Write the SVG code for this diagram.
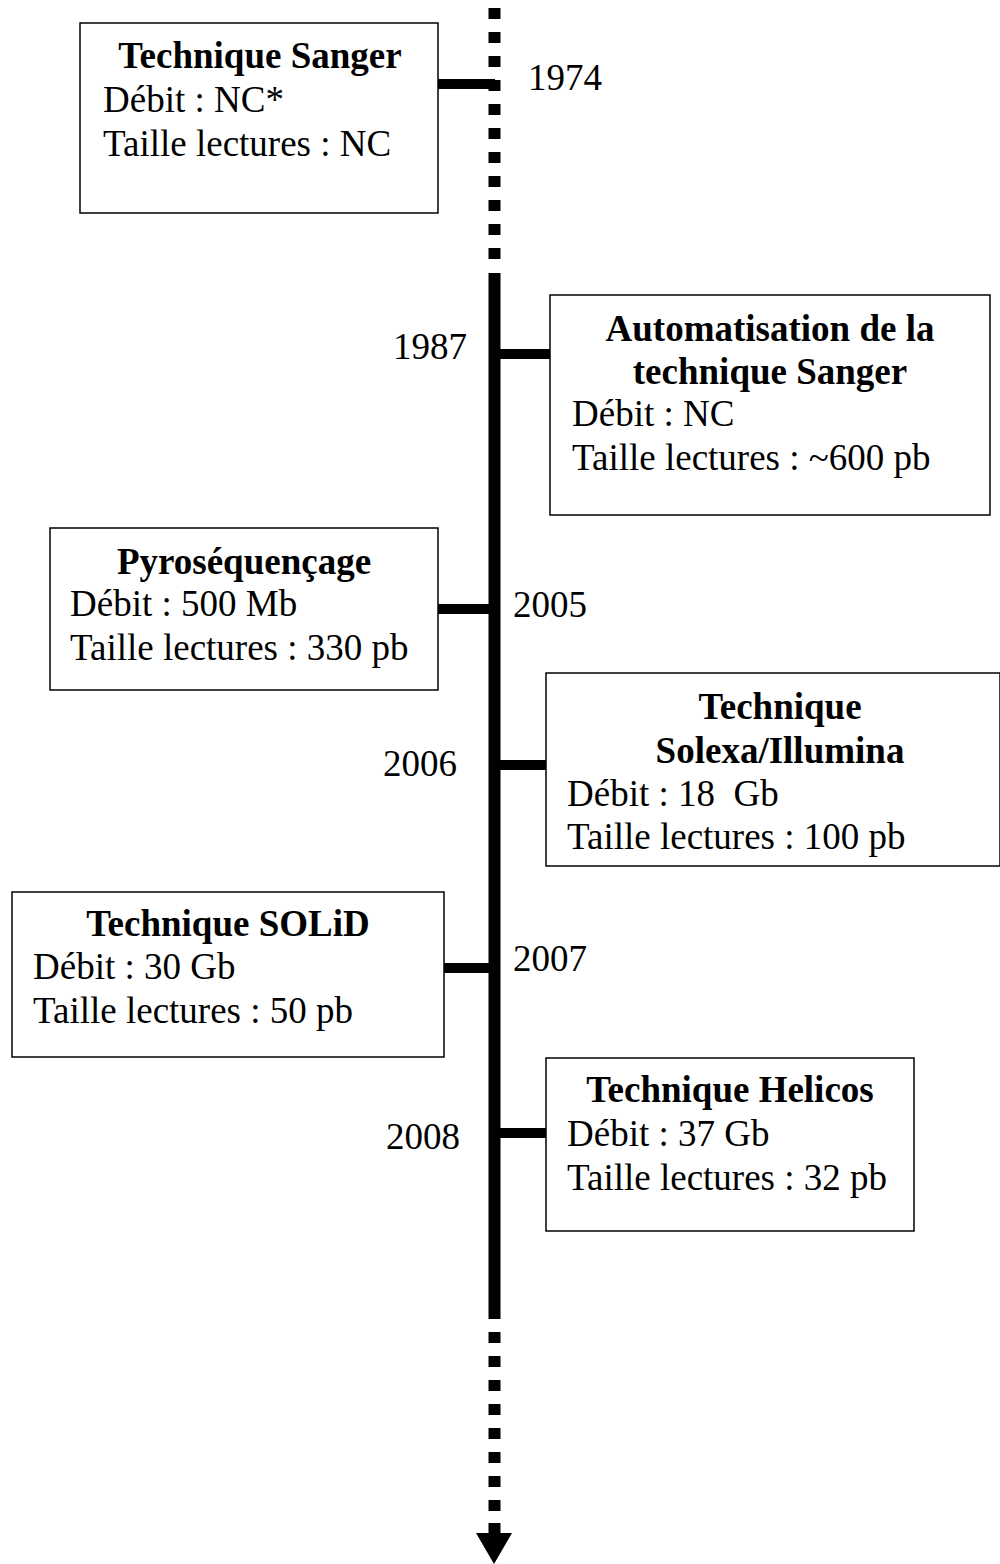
<svg xmlns="http://www.w3.org/2000/svg" width="1000" height="1564" viewBox="0 0 1000 1564">
<style>
  .box { fill: #fff; stroke: #000; stroke-width: 1.5; }
  .t { font-family: "Liberation Serif", "Times New Roman", serif; font-size: 37px; fill: #000; }
  .b { font-weight: bold; text-anchor: middle; }
  .axis { stroke: #000; stroke-width: 12; fill: none; }
  .dash { stroke-dasharray: 11 13; }
  .link { stroke: #000; stroke-width: 10; fill: none; }
</style>
<rect width="1000" height="1564" fill="#fff"/>
<g id="connectors">
  <line class="axis dash" x1="494.5" y1="8" x2="494.5" y2="262"/>
  <line class="axis" x1="494.5" y1="273" x2="494.5" y2="1319"/>
  <line class="axis dash" x1="494.5" y1="1332" x2="494.5" y2="1513"/>
  <line class="axis" x1="494.5" y1="1523" x2="494.5" y2="1536"/>
  <polygon points="476,1533 512,1533 494,1564" fill="#000"/>
  <line class="link" x1="438" y1="84" x2="495" y2="84"/>
  <line class="link" x1="495" y1="354" x2="550" y2="354"/>
  <line class="link" x1="438" y1="609" x2="495" y2="609"/>
  <line class="link" x1="495" y1="765" x2="546" y2="765"/>
  <line class="link" x1="444" y1="968" x2="495" y2="968"/>
  <line class="link" x1="495" y1="1133" x2="546" y2="1133"/>
</g>
<g id="n1974">
  <rect class="box" x="80" y="23" width="358" height="190"/>
  <text class="t b" x="260" y="68">Technique Sanger</text>
  <text class="t" x="103" y="112">Débit : NC*</text>
  <text class="t" x="103" y="156">Taille lectures : NC</text>
  <text class="t" x="528" y="90">1974</text>
</g>
<g id="n1987">
  <rect class="box" x="550" y="295" width="440" height="220"/>
  <text class="t b" x="770" y="341">Automatisation de la</text>
  <text class="t b" x="770" y="384">technique Sanger</text>
  <text class="t" x="572" y="426">Débit : NC</text>
  <text class="t" x="572" y="470">Taille lectures : ~600 pb</text>
  <text class="t" x="393" y="359">1987</text>
</g>
<g id="n2005">
  <rect class="box" x="50" y="528" width="388" height="162"/>
  <text class="t b" x="244" y="574">Pyroséquençage</text>
  <text class="t" x="70" y="616">Débit : 500 Mb</text>
  <text class="t" x="70" y="660">Taille lectures : 330 pb</text>
  <text class="t" x="513" y="617">2005</text>
</g>
<g id="n2006">
  <rect class="box" x="546" y="673" width="454" height="193"/>
  <text class="t b" x="780" y="719">Technique</text>
  <text class="t b" x="780" y="763">Solexa/Illumina</text>
  <text class="t" x="567" y="806" xml:space="preserve">Débit : 18  Gb</text>
  <text class="t" x="567" y="849">Taille lectures : 100 pb</text>
  <text class="t" x="383" y="776">2006</text>
</g>
<g id="n2007">
  <rect class="box" x="12" y="892" width="432" height="165"/>
  <text class="t b" x="228" y="936">Technique SOLiD</text>
  <text class="t" x="33" y="979">Débit : 30 Gb</text>
  <text class="t" x="33" y="1023">Taille lectures : 50 pb</text>
  <text class="t" x="513" y="971">2007</text>
</g>
<g id="n2008">
  <rect class="box" x="546" y="1058" width="368" height="173"/>
  <text class="t b" x="730" y="1102">Technique Helicos</text>
  <text class="t" x="567" y="1146">Débit : 37 Gb</text>
  <text class="t" x="567" y="1190">Taille lectures : 32 pb</text>
  <text class="t" x="386" y="1149">2008</text>
</g>
</svg>
